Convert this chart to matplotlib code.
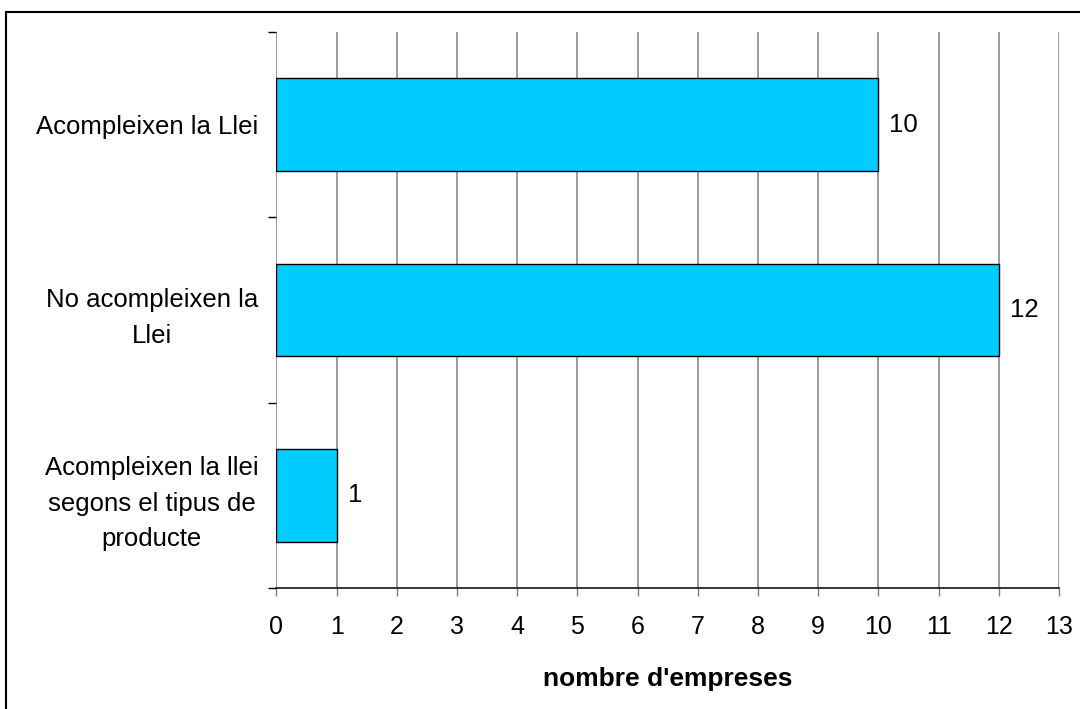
import matplotlib

matplotlib.use("Agg")
import matplotlib.pyplot as plt
from matplotlib.lines import Line2D

plt.rcParams["font.family"] = ["Liberation Sans", "DejaVu Sans"]

categories = [
    "Acompleixen la Llei",
    "No acompleixen la\nLlei",
    "Acompleixen la llei\nsegons el tipus de\nproducte",
]
values = [10, 12, 1]
x_ticks = list(range(0, 14))

fig = plt.figure(figsize=(10.8, 7.09), dpi=100)
ax = fig.add_axes([0.256, 0.1707, 0.7246, 0.7842])

pos = list(range(len(categories)))
ax.barh(pos, values, height=0.5, color="#00CCFF", edgecolor="black", linewidth=1.0, zorder=3)
for p, v in zip(pos, values):
    ax.text(v + 0.18, p, str(v), va="center", ha="left", fontsize=18.5, zorder=4)

ax.set_xlim(0, 13)
ax.set_ylim(2.5, -0.5)
ax.set_xticks(x_ticks)
ax.tick_params(axis="x", length=5.8, width=1.0, color="#808080", pad=14, labelsize=18)
ax.xaxis.grid(True, color="#808080", linewidth=1.1, zorder=0)

# category boundaries get the ticks, names sit on minor ticks at the centres
ax.set_yticks([-0.5, 0.5, 1.5, 2.5])
ax.set_yticklabels([])
ax.tick_params(axis="y", which="major", length=5.8, width=1.0, color="black")
ax.set_yticks(pos, minor=True)
ax.set_yticklabels(categories, minor=True, fontsize=18.5, multialignment="center", linespacing=1.6)
ax.tick_params(axis="y", which="minor", length=0, pad=13)

for s in ("top", "right", "left"):
    ax.spines[s].set_visible(False)
ax.spines["bottom"].set_color("black")
ax.spines["bottom"].set_linewidth(1.1)
ax.spines["bottom"].set_zorder(5)

ax.set_xlabel("nombre d'empreses", fontsize=19, fontweight="bold", labelpad=20)

# frame around the chart area (only top and left fall inside the image)
y_top = 1 - 12 / 709
x_left = 6 / 1080
fig.add_artist(Line2D([x_left, 1.02], [y_top, y_top], color="black", linewidth=1.5))
fig.add_artist(Line2D([x_left, x_left], [-0.02, y_top], color="black", linewidth=1.5))

fig.savefig("out.png", dpi=100)
